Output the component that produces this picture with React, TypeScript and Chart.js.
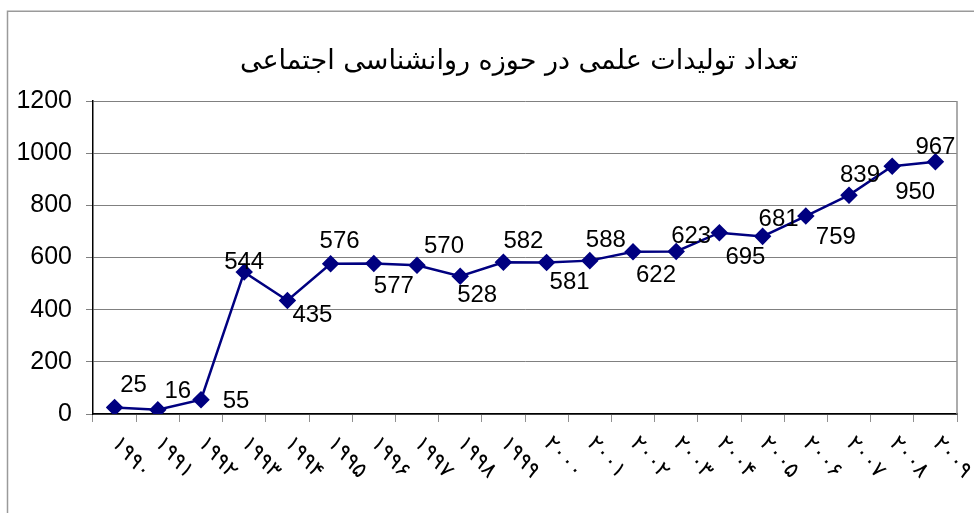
import React, { useEffect, useRef } from "react";
import { Chart, registerables } from "chart.js";

Chart.register(...registerables);

const TITLE = "تعداد تولیدات علمی در حوزه روانشناسی اجتماعی";
const years = [
  "۱۹۹۰", "۱۹۹۱", "۱۹۹۲", "۱۹۹۳", "۱۹۹۴", "۱۹۹۵", "۱۹۹۶", "۱۹۹۷", "۱۹۹۸", "۱۹۹۹",
  "۲۰۰۰", "۲۰۰۱", "۲۰۰۲", "۲۰۰۳", "۲۰۰۴", "۲۰۰۵", "۲۰۰۶", "۲۰۰۷", "۲۰۰۸", "۲۰۰۹",
];
const counts = [25, 16, 55, 544, 435, 576, 577, 570, 528, 582, 581, 588, 622, 623, 695, 681, 759, 839, 950, 967];
const yMin = 0;
const yMax = 1200;
const yStep = 200;

// label placement relative to each point (style only)
const labelOffsets: [number, number][] = [
  [19, -22], [20, -18], [35, 2], [0, -10], [25, 15], [9, -22], [20, 23], [27, -19], [17, 19], [20, -21],
  [23, 20], [16, -20], [23, 24], [15, -15], [26, 25], [16, -17], [30, 21], [11, -20], [23, 26], [0, -14],
];

const LABEL_FONT = "24px 'Liberation Sans', Arial, sans-serif";

const customPlugin = {
  id: "customDecor",
  beforeDraw(chart: any) {
    const ctx = chart.ctx;
    ctx.save();
    ctx.fillStyle = "#ffffff";
    ctx.fillRect(0, 0, chart.width, chart.height);
    ctx.strokeStyle = "#9a9a9a";
    ctx.lineWidth = 1.5;
    ctx.beginPath();
    ctx.moveTo(7.5, chart.height);
    ctx.lineTo(7.5, 11.25);
    ctx.lineTo(chart.width, 11.25);
    ctx.stroke();
    ctx.restore();
  },
  afterDraw(chart: any) {
    const ctx = chart.ctx;
    const area = chart.chartArea;
    const xs = chart.scales.x;
    ctx.save();
    // plot area right border
    ctx.strokeStyle = "#909090";
    ctx.lineWidth = 1.5;
    ctx.beginPath();
    ctx.moveTo(area.right, area.top);
    ctx.lineTo(area.right, area.bottom);
    ctx.stroke();

    // title
    ctx.fillStyle = "#000";
    ctx.font = "27px 'DejaVu Sans', sans-serif";
    ctx.textAlign = "center";
    ctx.textBaseline = "middle";
    ctx.direction = "rtl";
    ctx.fillText(TITLE, (area.left + area.right) / 2 - 6, 62);
    ctx.direction = "ltr";

    // rotated x labels
    ctx.font = "22px 'DejaVu Sans', sans-serif";
    ctx.textAlign = "left";
    ctx.textBaseline = "middle";
    try {
      (ctx as any).letterSpacing = "4px";
    } catch (e) {}
    years.forEach((lab, i) => {
      const x = xs.getPixelForValue(i);
      ctx.save();
      ctx.translate(x + 0.5, area.bottom + 26);
      ctx.rotate((48 * Math.PI) / 180);
      ctx.fillText(lab, 0, 0);
      ctx.restore();
    });
    try {
      (ctx as any).letterSpacing = "0px";
    } catch (e) {}

    // data labels
    const meta = chart.getDatasetMeta(0);
    ctx.font = LABEL_FONT;
    ctx.textAlign = "center";
    ctx.textBaseline = "middle";
    meta.data.forEach((pt: any, i: number) => {
      const [dx, dy] = labelOffsets[i];
      ctx.fillText(String(counts[i]), pt.x + dx, pt.y + dy);
    });
    ctx.restore();
  },
};

export default function App() {
  const ref = useRef<HTMLCanvasElement | null>(null);
  useEffect(() => {
    if (!ref.current) return;
    const chart = new Chart(ref.current, {
      type: "line",
      data: {
        labels: years,
        datasets: [
          {
            data: counts,
            borderColor: "#000080",
            backgroundColor: "#000080",
            borderWidth: 2.5,
            pointStyle: "rectRot",
            pointRadius: 7,
            pointBackgroundColor: "#000080",
            pointBorderColor: "#000080",
            tension: 0,
          },
        ],
      },
      options: {
        responsive: false,
        animation: false,
        layout: { padding: { top: 101, right: 17, left: 0, bottom: 0 } },
        plugins: {
          legend: { display: false },
          title: { display: false },
          tooltip: { enabled: false },
        },
        scales: {
          x: {
            offset: true,
            grid: { display: true, drawOnChartArea: false, offset: true, tickLength: 8, color: "#909090" },
            border: { color: "#000", width: 1.5 },
            ticks: { display: false },
            afterFit: (s: any) => {
              s.height = 99;
            },
          },
          y: {
            min: yMin,
            max: yMax,
            ticks: {
              stepSize: yStep,
              color: "#000",
              padding: 14,
              font: { family: "'Liberation Sans', Arial, sans-serif", size: 25 },
              callback: (v: any) => String(v),
            },
            grid: { color: "#808080", tickLength: 7, tickColor: "#808080" },
            border: { color: "#000", width: 1.5 },
            afterFit: (s: any) => {
              s.width = 93;
            },
          },
        },
      },
      plugins: [customPlugin],
    });
    return () => chart.destroy();
  }, []);
  return (
    <div style={{ position: "absolute", left: 0, top: 0, width: 974, height: 513 }}>
      <canvas ref={ref} width={974} height={513} style={{ display: "block" }} />
    </div>
  );
}
